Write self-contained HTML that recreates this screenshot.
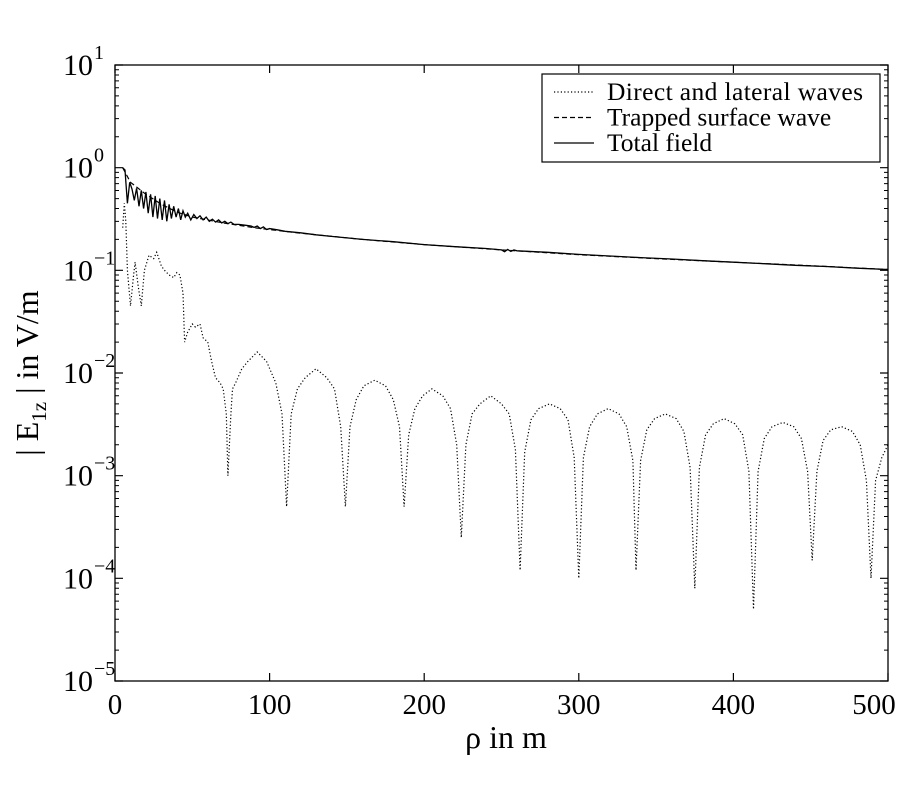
<!DOCTYPE html>
<html><head><meta charset="utf-8"><style>
body{margin:0;background:#fff;}
svg{display:block;font-family:"Liberation Serif",serif;}
</style></head><body>
<svg id="chart" width="900" height="800" viewBox="0 0 900 800"></svg>
<script>
// data
const xTicks=[0,100,200,300,400,500];
const yExp=[1,0,-1,-2,-3,-4,-5];
const rhoDirect=[5,6,7,8,10,12,13,15,17,19,22,25,27,30,32,35,38,40,42,44,45,47,50,52,55,57,60,62,63,65,68,70,72,73,74,75,76,78,82,86,92,98,104,108,111,114,118,123,130,137,142,146,149,152,156,161,168,175,180,184,187,190,194,199,205,212,217,221,224,227,231,236,243,250,255,259,262,265,269,274,281,288,293,297,300,303,307,312,319,326,331,335,337,340,344,349,356,363,368,372,375,378,382,387,394,401,406,410,413,416,420,425,432,439,444,448,451,454,458,463,470,477,482,486,489,492,496,500];
const valDirect=[0.26,0.45,0.3,0.1,0.045,0.09,0.12,0.07,0.045,0.1,0.14,0.13,0.15,0.11,0.1,0.09,0.085,0.095,0.09,0.06,0.02,0.025,0.03,0.028,0.03,0.022,0.02,0.014,0.012,0.009,0.008,0.007,0.004,0.001,0.002,0.004,0.007,0.008,0.011,0.013,0.016,0.013,0.008,0.004,0.0005,0.004,0.007,0.009,0.011,0.009,0.007,0.003,0.0005,0.003,0.0055,0.0075,0.0085,0.0075,0.0055,0.003,0.0005,0.0025,0.0045,0.006,0.007,0.006,0.0045,0.002,0.00025,0.002,0.004,0.005,0.006,0.005,0.004,0.0018,0.00012,0.0017,0.0035,0.0045,0.005,0.0045,0.0035,0.0015,0.0001,0.0015,0.003,0.004,0.0045,0.004,0.003,0.0014,0.00012,0.0014,0.0028,0.0036,0.004,0.0036,0.0027,0.0012,0.00008,0.0012,0.0025,0.0032,0.0036,0.0032,0.0025,0.0011,0.00005,0.0011,0.0023,0.003,0.0033,0.003,0.0023,0.0011,0.00015,0.0011,0.0022,0.0028,0.003,0.0027,0.002,0.0009,0.0001,0.0009,0.0015,0.002];
const rhoTrapped=[5,10,20,30,40,50,70,90,120,160,200,250,300,350,400,450,500];
const valTrapped=[1.0,0.72,0.55,0.44,0.37,0.33,0.29,0.26,0.23,0.2,0.178,0.158,0.142,0.13,0.12,0.111,0.102];
const rhoTotal=[5,6.5,8,9.5,11,12.5,14,15.5,17,18.5,20,21.5,23,24.5,26,27.5,29,30.5,32,33.5,35,36.5,38,39.5,41,42.5,44,45.5,47,49,51,53,55,57,59,61,63,65,67,69,71,73,75,77,80,84,88,90,92,94,96,98,100,105,110,120,130,140,150,160,180,200,220,240,250,252,254,256,258,260,280,300,320,340,360,380,400,420,440,460,480,500];
const valTotal=[1.0,0.95,0.45,0.72,0.62,0.48,0.63,0.42,0.6,0.4,0.58,0.36,0.55,0.33,0.53,0.32,0.5,0.31,0.48,0.3,0.44,0.32,0.42,0.33,0.4,0.31,0.38,0.33,0.36,0.31,0.35,0.32,0.34,0.31,0.33,0.3,0.315,0.295,0.31,0.29,0.3,0.285,0.295,0.28,0.28,0.275,0.27,0.262,0.27,0.255,0.265,0.25,0.255,0.248,0.24,0.232,0.222,0.214,0.207,0.2,0.19,0.178,0.17,0.163,0.158,0.152,0.16,0.153,0.158,0.155,0.15,0.143,0.138,0.133,0.129,0.124,0.12,0.116,0.112,0.109,0.105,0.102];

const NS='http://www.w3.org/2000/svg';
const svg=document.getElementById('chart');
const L=115,R=888,T=65,B=681;
const xs=v=>L+(v-0)/(500-0)*(R-L);
const ys=v=>T+(1-Math.log10(v))/6*(B-T);
function mk(tag,attrs,parent){const e=document.createElementNS(NS,tag);for(const k in attrs)e.setAttribute(k,attrs[k]);(parent||svg).appendChild(e);return e;}

const frame=mk('rect',{x:L,y:T,width:R-L,height:B-T,fill:'none',stroke:'#000','stroke-width':1.3});



// x ticks
xTicks.forEach((t,i)=>{
  const x=xs(t);
  const tk=mk('path',{d:`M${x},${B}v-8M${x},${T}v8`,stroke:'#000','stroke-width':1.2});
  
  
  const lx=i===xTicks.length-1?x-14:x;
  const lb=mk('text',{x:lx,y:B+33,'font-size':29,'text-anchor':'middle'});
  lb.textContent=t;
  
  
});
// y ticks
yExp.forEach(e=>{
  const y=ys(Math.pow(10,e));
  const tk=mk('path',{d:`M${L},${y}h8M${R},${y}h-8`,stroke:'#000','stroke-width':1.2});
  
  
  if(e>-5){for(let m=2;m<=9;m++){const ym=ys(m*Math.pow(10,e-1));const mt=mk('path',{d:`M${L},${ym}h4M${R},${ym}h-4`,stroke:'#000','stroke-width':1});
    
    }}
  const lb=mk('text',{x:93,y:y+10,'font-size':30,'text-anchor':'end'});
  lb.textContent='10';
  
  
  const sp=mk('text',{x:94,y:y-6,'font-size':20,'text-anchor':'start'});
  sp.textContent=e<0?'\u2212'+(-e):String(e);
  
  
});

function line(rs,vs,dash,name,w){
  const d=rs.map((r,i)=>(i?'L':'M')+xs(r).toFixed(1)+','+ys(vs[i]).toFixed(1)).join('');
  const p=mk('path',{d:d,fill:'none',stroke:'#000','stroke-width':w,'stroke-dasharray':dash});
  
  
}
line(rhoDirect,valDirect,'1.2,2.2','direct-lateral-waves-series',1.2);
line(rhoTrapped,valTrapped,'5,3','trapped-surface-wave-series',1.2);
line(rhoTotal,valTotal,'none','total-field-series',1.3);

// axis titles
const xt=mk('text',{x:506,y:748,'font-size':32,'text-anchor':'middle'});
xt.textContent='ρ in m';


const yt=mk('text',{transform:'translate(38,373) rotate(-90)','font-size':32,'text-anchor':'middle'});
yt.innerHTML='| E<tspan font-size="21" dy="8">1z</tspan><tspan dy="-8"> | in V/m</tspan>';



// legend
const lg=mk('g',{});


mk('rect',{x:542,y:74,width:338,height:88,fill:'#fff',stroke:'#000','stroke-width':1.2},lg);
const items=[['Direct and lateral waves','1.2,2.2'],['Trapped surface wave','5,3'],['Total field','none']];
items.forEach((it,i)=>{
  const y=92+i*25.5;
  const ls=mk('line',{x1:554,x2:594,y1:y,y2:y,stroke:'#000','stroke-width':1.2,'stroke-dasharray':it[1]},lg);
  
  
  const tx=mk('text',{x:607,y:y+8,'font-size':25.5,textLength:it[0]==='Direct and lateral waves'?256:null},lg);
  if(!tx.getAttribute('textLength')||tx.getAttribute('textLength')==='null')tx.removeAttribute('textLength');
  tx.textContent=it[0];
  
  
});
</script>
</body></html>
